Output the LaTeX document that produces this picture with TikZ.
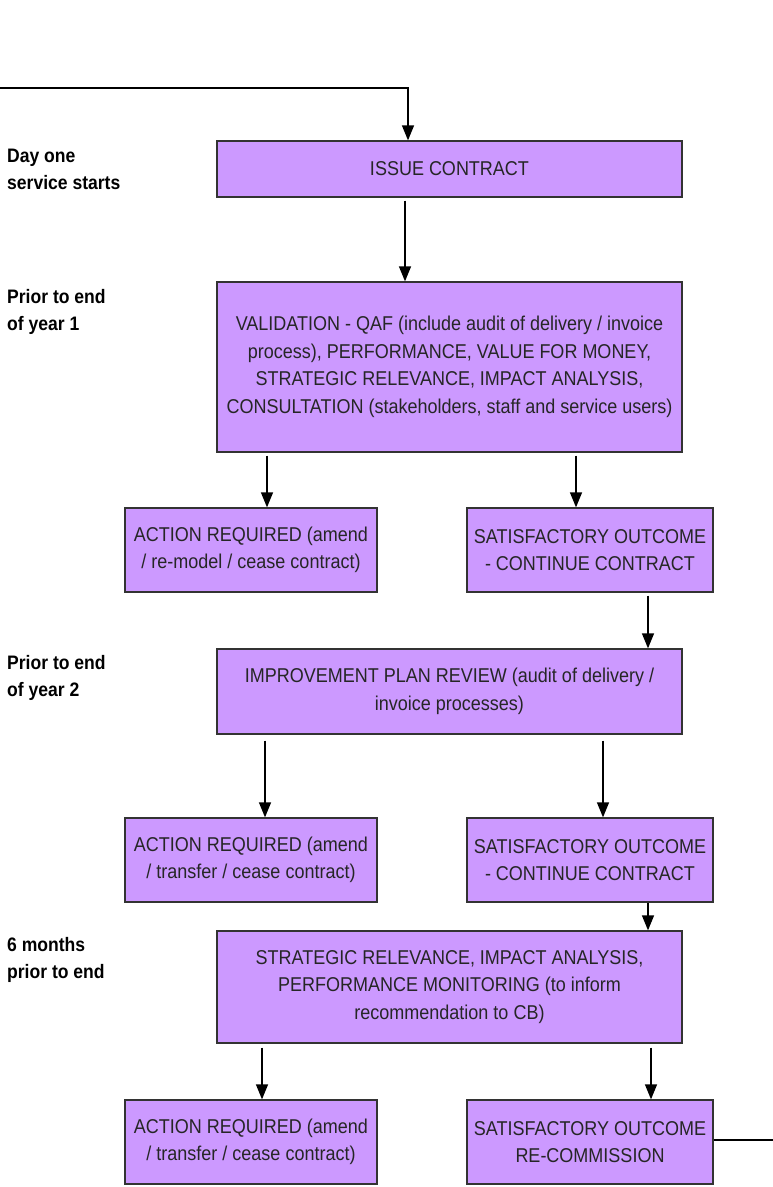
\documentclass[tikz,border=0pt]{standalone}
\usepackage{fontspec}
\setmainfont{Liberation Sans}
\newfontfamily\lblfont[FakeStretch=0.9]{Liberation Sans}
\newfontfamily\boxfont[FakeStretch=0.9]{Liberation Sans}
\usetikzlibrary{arrows.meta}
\definecolor{boxfill}{HTML}{CC99FF}
\definecolor{boxline}{HTML}{333333}
\tikzset{
  x=1pt, y=-1pt,
  pbox/.style={draw=boxline, fill=boxfill, line width=1.3pt, inner sep=0pt, align=center,
    font=\boxfont\fontsize{20}{27.5}\selectfont, text=black!85},
  lbl/.style={anchor=north west, align=left, inner sep=0pt, font=\lblfont\bfseries\fontsize{19.5}{27}\selectfont},
  arr/.style={line width=1.3pt, -{Triangle[width=12pt,length=15pt]}},
  ln/.style={line width=1.3pt}
}
\newcommand{\pboxat}[6]{\node[pbox, minimum width=#3-#1, minimum height=#4-#2] (#5) at ({(#1+#3)/2},{(#2+#4)/2}) {#6};}
\begin{document}
\begin{tikzpicture}
\useasboundingbox (0,0) rectangle (773,1187);
% boxes
\pboxat{217}{141}{682}{197}{issue}{ISSUE CONTRACT}
\pboxat{217}{282}{682}{452}{valid}{VALIDATION - QAF (include audit of delivery / invoice\\process), PERFORMANCE, VALUE FOR MONEY,\\STRATEGIC RELEVANCE, IMPACT ANALYSIS,\\CONSULTATION (stakeholders, staff and service users)}
\pboxat{125}{508}{377}{592}{act1}{ACTION REQUIRED (amend\\/ re-model / cease contract)}
\pboxat{467}{508}{713}{592}{sat1}{SATISFACTORY OUTCOME\\- CONTINUE CONTRACT}
\pboxat{217}{649}{682}{734}{impr}{IMPROVEMENT PLAN REVIEW (audit of delivery /\\invoice processes)}
\pboxat{125}{818}{377}{902}{act2}{ACTION REQUIRED (amend\\/ transfer / cease contract)}
\pboxat{467}{818}{713}{902}{sat2}{SATISFACTORY OUTCOME\\- CONTINUE CONTRACT}
\pboxat{217}{931}{682}{1043}{strat}{STRATEGIC RELEVANCE, IMPACT ANALYSIS,\\PERFORMANCE MONITORING (to inform\\recommendation to CB)}
\pboxat{125}{1100}{377}{1184}{act3}{ACTION REQUIRED (amend\\/ transfer / cease contract)}
\pboxat{467}{1100}{713}{1184}{sat3}{SATISFACTORY OUTCOME\\RE-COMMISSION}
% labels
\node[lbl] (l1) at (7,149) {Day one\\service starts};
\node[lbl] (l2) at (7,289) {Prior to end\\of year 1};
\node[lbl] (l3) at (7,655) {Prior to end\\of year 2};
\node[lbl] (l4) at (7,937) {6 months\\prior to end};
% connectors
\coordinate (tl) at (0,88);
\coordinate (tc) at (408,88);
\coordinate (re) at (773,1140);
\draw[arr] (tl) -- (tc) -- (issue.north -| tc);
\draw[arr] ([yshift=-3pt]issue.south -| 405,0) -- (valid.north -| 405,0);
\draw[arr] ([yshift=-3pt]valid.south -| 267,0) -- (act1.north -| 267,0);
\draw[arr] ([yshift=-3pt]valid.south -| 576,0) -- (sat1.north -| 576,0);
\draw[arr] ([yshift=-3pt]sat1.south -| 648,0) -- (impr.north -| 648,0);
\draw[arr] ([yshift=-6pt]impr.south -| 265,0) -- (act2.north -| 265,0);
\draw[arr] ([yshift=-6pt]impr.south -| 603,0) -- (sat2.north -| 603,0);
\draw[arr] (sat2.south -| 648,0) -- (strat.north -| 648,0);
\draw[arr] ([yshift=-4pt]strat.south -| 262,0) -- (act3.north -| 262,0);
\draw[arr] ([yshift=-4pt]strat.south -| 651,0) -- (sat3.north -| 651,0);
\draw[ln] (sat3.east |- re) -- (re);
\end{tikzpicture}
\end{document}
